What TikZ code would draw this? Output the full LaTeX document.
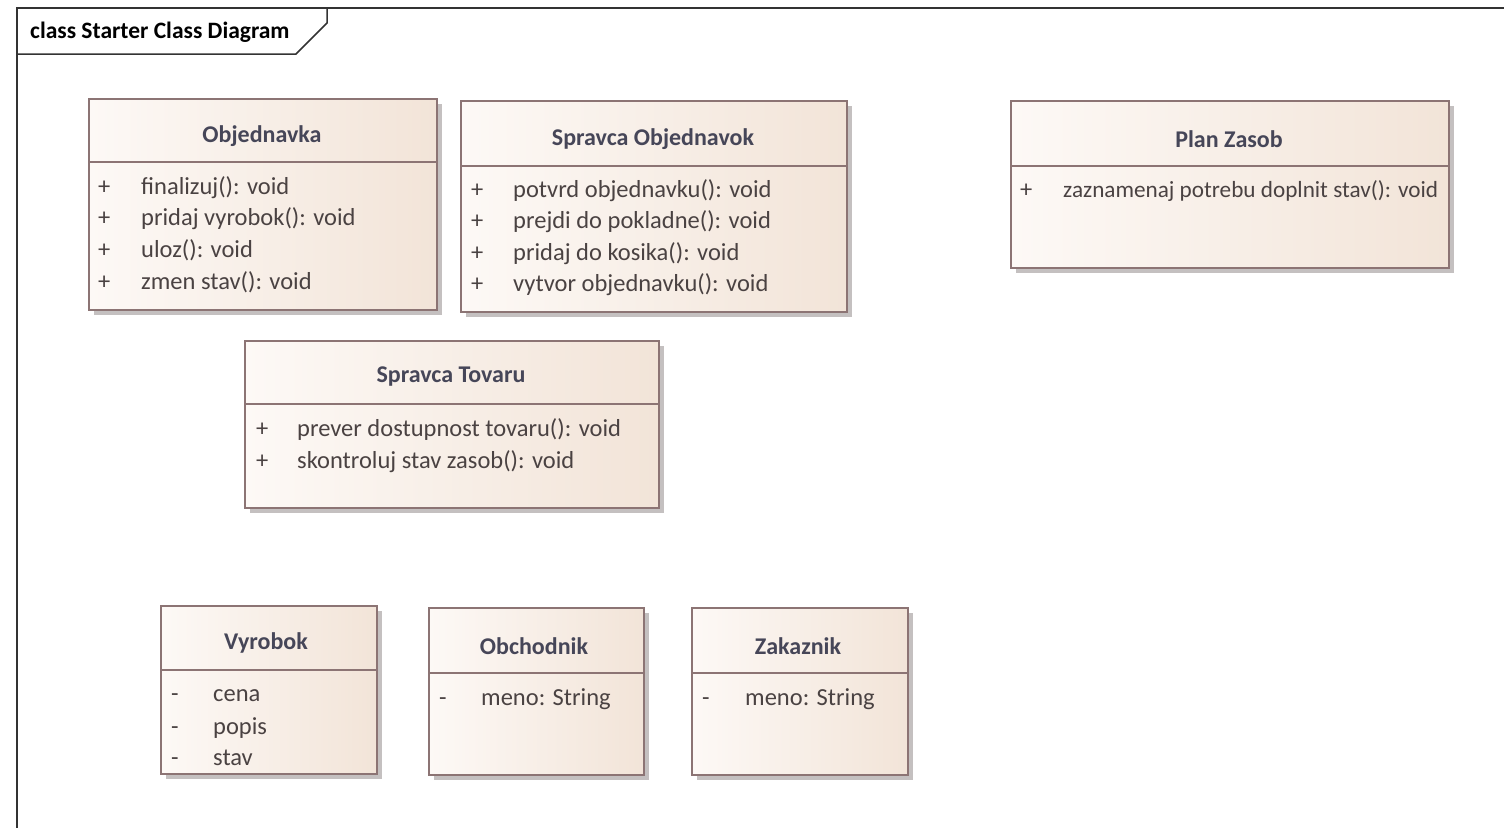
\documentclass[tikz,border=0pt]{standalone}
\usepackage{fontspec}
\setmainfont{Carlito}
\usetikzlibrary{shadows}
\definecolor{cborder}{HTML}{8C7474}
\definecolor{cleft}{HTML}{FDF9F6}
\definecolor{cright}{HTML}{F2E4D8}
\definecolor{ctitle}{HTML}{464658}
\definecolor{ctext}{HTML}{4A4242}
\definecolor{cshadow}{HTML}{C4C0C0}
\begin{document}
\begin{tikzpicture}[x=1pt,y=-1pt,
  classbox/.style={draw=cborder, line width=1.6pt, anchor=north west,
    left color=cleft, right color=cright, inner sep=0pt,
    drop shadow={shadow xshift=5pt, shadow yshift=-5pt, fill=cshadow, opacity=1}},
  divider/.style={draw=cborder, line width=1.6pt},
  ctitle/.style={font=\fontsize{24}{27}\selectfont\bfseries, text=ctitle, inner sep=0pt, yshift=-2pt},
  vis/.style={font=\fontsize{24.5}{28}\selectfont, text=ctext, inner sep=0pt, anchor=west,
    text height=0.72em, text depth=0.22em, yshift=-5pt},
  row/.style={vis}
]
\useasboundingbox (0,0) rectangle (1504,828);
\fill[white] (0,0) rectangle (1504,828);

% diagram frame and its name tab
\coordinate (ftl) at (17,8);
\coordinate (ftr) at (1504,8);
\coordinate (fbl) at (17,828);
\draw[line width=2pt, black!80] (ftr) -- (ftl) -- (fbl);
\draw[line width=1.5pt, black!80] (17,54) -- (296,54) -- (327,23) -- (327,8);
\node[font=\fontsize{23.5}{26}\selectfont\bfseries, anchor=west, inner sep=0pt] (frametitle) at (30,32) {class Starter Class Diagram};

% Objednavka
\node[classbox, minimum width=348, minimum height=211] (obj) at (88,98) {};
\draw[divider] (88,162) -- (436,162);
\node[ctitle] (obj-t) at (262,134) {Objednavka};
\foreach \y/\t in {187/finalizuj(): void, 218/pridaj vyrobok(): void, 250/uloz(): void, 282/zmen stav(): void}{
  \node[vis] at (98,\y) {+};
  \node[row] at (141,\y) {\t};
}

% Spravca Objednavok
\node[classbox, minimum width=386, minimum height=211] (sobj) at (460,100) {};
\draw[divider] (460,166) -- (846,166);
\node[ctitle] (sobj-t) at (653,137) {Spravca Objednavok};
\foreach \y/\t in {190/potvrd objednavku(): void, 221/prejdi do pokladne(): void, 253/pridaj do kosika(): void, 284/vytvor objednavku(): void}{
  \node[vis] at (471,\y) {+};
  \node[row] at (513,\y) {\t};
}

% Plan Zasob
\node[classbox, minimum width=438, minimum height=167] (plan) at (1010,100) {};
\draw[divider] (1010,166) -- (1448,166);
\node[ctitle] (plan-t) at (1229,137) {Plan Zasob};
\node[vis] (plan-v1) at (1020,190) {+};
\node[row, font=\fontsize{23.2}{28}\selectfont] (plan-r1) at (1063,190) {zaznamenaj potrebu doplnit stav(): void};

% Spravca Tovaru
\node[classbox, minimum width=414, minimum height=167] (stov) at (244,340) {};
\draw[divider] (244,404) -- (658,404);
\node[ctitle] (stov-t) at (451,375) {Spravca Tovaru};
\foreach \y/\t in {429/prever dostupnost tovaru(): void, 461/skontroluj stav zasob(): void}{
  \node[vis] at (256,\y) {+};
  \node[row] at (297,\y) {\t};
}

% Vyrobok
\node[classbox, minimum width=216, minimum height=168] (vyr) at (160,605) {};
\draw[divider] (160,670) -- (376,670);
\node[ctitle] (vyr-t) at (266,641) {Vyrobok};
\foreach \y/\t in {694/cena, 727/popis, 758/stav}{
  \node[vis] at (171,\y) {-};
  \node[row] at (213,\y) {\t};
}

% Obchodnik
\node[classbox, minimum width=215, minimum height=167] (obch) at (428,607) {};
\draw[divider] (428,673) -- (643,673);
\node[ctitle] (obch-t) at (534,644) {Obchodnik};
\node[vis] (obch-v1) at (439,698) {-};
\node[row] (obch-r1) at (481,698) {meno: String};

% Zakaznik
\node[classbox, minimum width=216, minimum height=167] (zak) at (691,607) {};
\draw[divider] (691,673) -- (907,673);
\node[ctitle] (zak-t) at (798,644) {Zakaznik};
\node[vis] (zak-v1) at (702,698) {-};
\node[row] (zak-r1) at (745,698) {meno: String};
\end{tikzpicture}
\end{document}
